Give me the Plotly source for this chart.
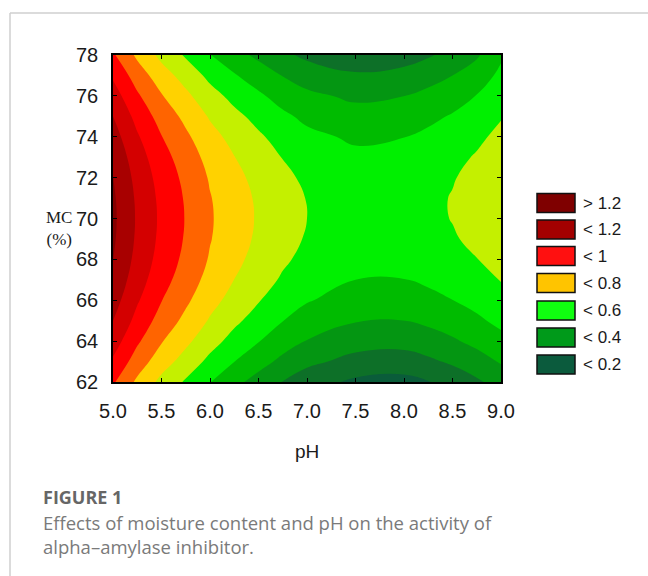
import plotly.graph_objects as go

# ---- data ----
ph_values = [5.0, 5.25, 5.5, 5.75, 6.0, 6.25, 6.5, 6.75, 7.0, 7.5, 8.0, 8.25, 8.5, 8.75, 9.0]
mc_values = [62, 63, 64, 65, 66, 67, 68, 69, 70, 71, 72, 73, 74, 75, 76, 77, 78]
# rows = MC (62 -> 78), columns = pH values above
activity = [
    [0.913, 0.781, 0.673, 0.588, 0.503, 0.427, 0.362, 0.297, 0.244, 0.181, 0.168, 0.196, 0.235, 0.284, 0.340],
    [0.985, 0.853, 0.745, 0.660, 0.575, 0.501, 0.438, 0.376, 0.325, 0.267, 0.256, 0.281, 0.316, 0.359, 0.409],
    [1.047, 0.915, 0.807, 0.722, 0.637, 0.566, 0.504, 0.444, 0.396, 0.342, 0.333, 0.356, 0.387, 0.426, 0.471],
    [1.100, 0.968, 0.860, 0.775, 0.690, 0.620, 0.560, 0.502, 0.457, 0.406, 0.399, 0.420, 0.448, 0.483, 0.524],
    [1.143, 1.011, 0.903, 0.818, 0.733, 0.665, 0.606, 0.550, 0.507, 0.458, 0.454, 0.473, 0.499, 0.530, 0.568],
    [1.177, 1.045, 0.937, 0.852, 0.767, 0.699, 0.642, 0.588, 0.546, 0.500, 0.498, 0.516, 0.540, 0.569, 0.604],
    [1.201, 1.069, 0.961, 0.876, 0.791, 0.724, 0.668, 0.615, 0.574, 0.531, 0.531, 0.549, 0.571, 0.598, 0.632],
    [1.215, 1.083, 0.975, 0.890, 0.805, 0.740, 0.684, 0.632, 0.592, 0.551, 0.553, 0.570, 0.592, 0.619, 0.651],
    [1.220, 1.088, 0.980, 0.895, 0.810, 0.745, 0.690, 0.639, 0.600, 0.560, 0.564, 0.581, 0.603, 0.630, 0.662],
    [1.215, 1.083, 0.975, 0.890, 0.805, 0.741, 0.686, 0.635, 0.597, 0.557, 0.564, 0.582, 0.604, 0.632, 0.665],
    [1.201, 1.069, 0.961, 0.876, 0.791, 0.726, 0.672, 0.621, 0.583, 0.544, 0.553, 0.572, 0.595, 0.624, 0.659],
    [1.177, 1.045, 0.937, 0.852, 0.767, 0.702, 0.648, 0.597, 0.558, 0.520, 0.531, 0.551, 0.576, 0.608, 0.645],
    [1.143, 1.011, 0.903, 0.818, 0.733, 0.669, 0.614, 0.563, 0.523, 0.485, 0.498, 0.520, 0.547, 0.582, 0.622],
    [1.100, 0.968, 0.860, 0.775, 0.690, 0.625, 0.570, 0.518, 0.478, 0.439, 0.454, 0.478, 0.508, 0.547, 0.594],
    [1.047, 0.915, 0.807, 0.722, 0.637, 0.572, 0.516, 0.463, 0.422, 0.381, 0.399, 0.426, 0.459, 0.503, 0.560],
    [0.985, 0.853, 0.745, 0.660, 0.575, 0.508, 0.452, 0.397, 0.355, 0.313, 0.333, 0.363, 0.400, 0.449, 0.522],
    [0.913, 0.781, 0.673, 0.588, 0.503, 0.435, 0.378, 0.322, 0.278, 0.234, 0.256, 0.289, 0.331, 0.387, 0.485],
]
x_tick_values = [5.0, 5.5, 6.0, 6.5, 7.0, 7.5, 8.0, 8.5, 9.0]
x_tick_labels = ["5.0", "5.5", "6.0", "6.5", "7.0", "7.5", "8.0", "8.5", "9.0"]
y_tick_values = [62, 64, 66, 68, 70, 72, 74, 76, 78]
legend_labels = ["> 1.2", "< 1.2", "< 1", "< 0.8", "< 0.6", "< 0.4", "< 0.2"]

# ---- styling ----
band_colors = ["#0a5c3a", "#0d7028", "#049612", "#00bb00", "#00f000", "#c4f000",
               "#ffd200", "#ff6400", "#ff0000", "#d40000", "#a80000", "#840000"]
legend_colors = ["#7f0000", "#a30000", "#ff1010", "#ffc400", "#10ff10", "#009a1a", "#0b5b3d"]
n = len(band_colors)
colorscale = [[k / (n - 1), c] for k, c in enumerate(band_colors)]

fig = go.Figure()
fig.add_trace(go.Contour(
    x=ph_values, y=mc_values, z=activity,
    colorscale=colorscale,
    contours=dict(start=0.2, end=1.2, size=0.1, coloring="fill", showlines=False),
    line=dict(smoothing=1.3, width=0),
    showscale=False, hoverinfo="skip",
))

W, H = 648, 576
L, R, T, B = 113, 501, 55, 382

tick_font = dict(family="Liberation Sans, Arial", size=20, color="#1a1a1a")
fig.update_layout(
    width=W, height=H,
    margin=dict(l=L, r=W - R, t=T, b=H - B),
    paper_bgcolor="white", plot_bgcolor="white",
    showlegend=False,
    xaxis=dict(range=[5, 9], tickvals=x_tick_values, ticktext=x_tick_labels,
               ticks="inside", ticklen=4, tickcolor="black", mirror="ticks",
               showline=True, linecolor="black", linewidth=1.5,
               showgrid=False, zeroline=False, tickfont=tick_font,
               ticklabelstandoff=10),
    yaxis=dict(range=[62, 78], tickvals=y_tick_values,
               ticks="inside", ticklen=4, tickcolor="black", mirror="ticks",
               showline=True, linecolor="black", linewidth=1.5,
               showgrid=False, zeroline=False, tickfont=tick_font,
               ticklabelstandoff=9),
)

shapes = []
annotations = []


def px_x(px):
    return (px - L) / (R - L)


def px_y(py):
    return (B - py) / (B - T)


# outer frame (left and top grey lines)
shapes.append(dict(type="line", xref="paper", yref="paper",
                   x0=px_x(10), x1=px_x(650), y0=px_y(13), y1=px_y(13),
                   line=dict(color="#cfcfcf", width=1.5)))
shapes.append(dict(type="line", xref="paper", yref="paper",
                   x0=px_x(10), x1=px_x(10), y0=px_y(13), y1=px_y(580),
                   line=dict(color="#cfcfcf", width=1.5)))

# legend swatches
centers = [203, 229.5, 256, 283, 310.5, 337.5, 364.5]
for lab, col, cy in zip(legend_labels, legend_colors, centers):
    shapes.append(dict(type="rect", xref="paper", yref="paper",
                       x0=px_x(537), x1=px_x(575), y0=px_y(cy - 9.5), y1=px_y(cy + 9.5),
                       fillcolor=col, line=dict(color="#111", width=1.5)))
    annotations.append(dict(xref="paper", yref="paper", x=px_x(581), y=px_y(cy),
                            text=lab, showarrow=False, xanchor="left", yanchor="middle",
                            font=dict(family="Liberation Sans, Arial", size=17, color="#1a1a1a")))

# axis titles
annotations.append(dict(xref="paper", yref="paper", x=px_x(59), y=px_y(229),
                        text="MC<br>(%)", showarrow=False, xanchor="center", yanchor="middle",
                        align="center",
                        font=dict(family="Liberation Serif, Times New Roman", size=17, color="#1a1a1a")))
annotations.append(dict(xref="paper", yref="paper", x=px_x(307), y=px_y(451),
                        text="pH", showarrow=False, xanchor="center", yanchor="middle",
                        font=dict(family="Liberation Sans, Arial", size=19, color="#1a1a1a")))

# caption
annotations.append(dict(xref="paper", yref="paper", x=px_x(41), y=px_y(497),
                        text="<b>FIGURE 1</b>", showarrow=False, xanchor="left", yanchor="middle",
                        font=dict(family="Open Sans", size=18, color="#666666")))
annotations.append(dict(xref="paper", yref="paper", x=px_x(41), y=px_y(522),
                        text="Effects of moisture content and pH on the activity of",
                        showarrow=False, xanchor="left", yanchor="middle",
                        font=dict(family="Open Sans", size=18.5, color="#7a7a7a")))
annotations.append(dict(xref="paper", yref="paper", x=px_x(41), y=px_y(546),
                        text="alpha\u2013amylase inhibitor.",
                        showarrow=False, xanchor="left", yanchor="middle",
                        font=dict(family="Open Sans", size=18.5, color="#7a7a7a")))

fig.update_layout(shapes=shapes, annotations=annotations)
fig.write_html("out.html")
